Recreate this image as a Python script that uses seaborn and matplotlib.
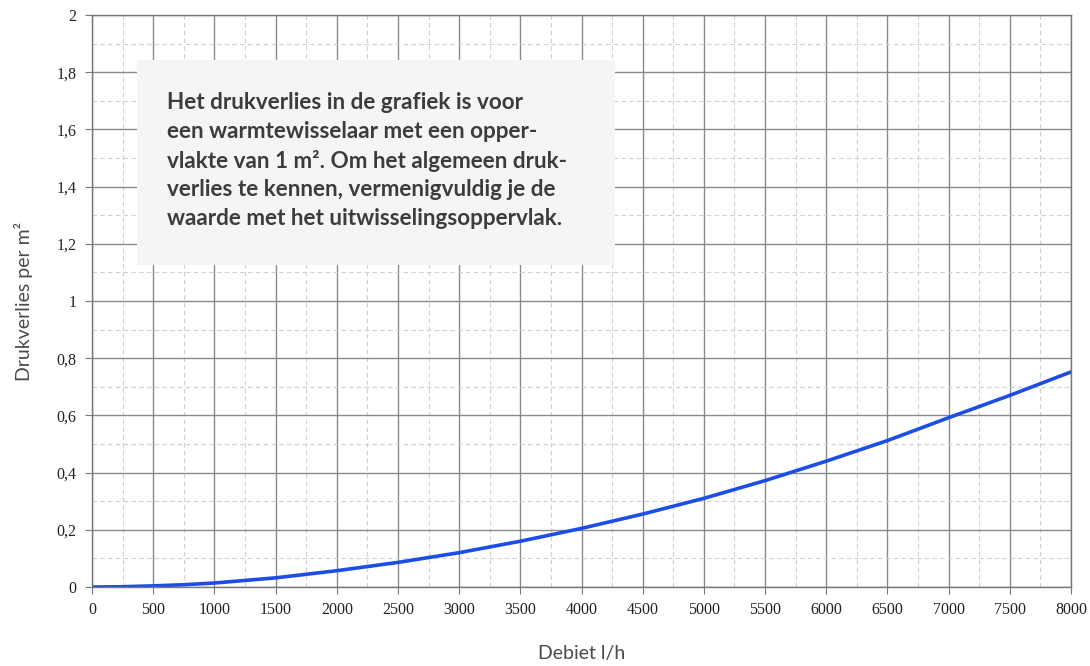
import numpy as np
import pandas as pd
import matplotlib.pyplot as plt
from matplotlib.patches import Rectangle
from matplotlib.ticker import MultipleLocator, FuncFormatter
import seaborn as sns

# debiet (l/h) and drukverlies per m2
debiet = [0, 250, 500, 750, 1000, 1500, 2000, 2500, 3000, 3500, 4000,
          4500, 5000, 5500, 6000, 6500, 7000, 7500, 8000]
drukverlies = [0.0, 0.001, 0.004, 0.008, 0.014, 0.032, 0.057, 0.086, 0.12, 0.16, 0.205,
               0.255, 0.31, 0.372, 0.44, 0.512, 0.592, 0.67, 0.752]

note = ("Het drukverlies in de grafiek is voor\n"
        "een warmtewisselaar met een opper-\n"
        "vlakte van 1 m². Om het algemeen druk-\n"
        "verlies te kennen, vermenigvuldig je de\n"
        "waarde met het uitwisselingsoppervlak.")

df = pd.DataFrame({"debiet": debiet, "drukverlies": drukverlies})

sns.set_style("white")
fig = plt.figure(figsize=(10.9, 6.66), dpi=100)
ax = fig.add_axes([0.0844, 0.1186, 0.8982, 0.8589])

sns.lineplot(data=df, x="debiet", y="drukverlies", ax=ax, color="#1c4ee6", linewidth=2.6)

ax.set_xlim(0, 8000)
ax.set_ylim(0, 2)
ax.xaxis.set_major_locator(MultipleLocator(500))
ax.xaxis.set_minor_locator(MultipleLocator(250))
ax.yaxis.set_major_locator(MultipleLocator(0.2))
ax.yaxis.set_minor_locator(MultipleLocator(0.1))
ax.yaxis.set_major_formatter(FuncFormatter(lambda v, p: f"{v:g}".replace(".", ",")))

ax.grid(which="major", color="#8a8a8a", linewidth=1.0, linestyle="-")
ax.grid(which="minor", color="#cfcfcf", linewidth=0.8, linestyle=(0, (4, 3)))
ax.set_axisbelow(True)

for s in ax.spines.values():
    s.set_color("#777777")
    s.set_linewidth(1.0)

ax.tick_params(which="major", direction="out", length=5, color="#777777",
               labelsize=11.5, pad=6, bottom=True, left=True)
ax.tick_params(which="minor", length=0)
for lbl in ax.get_xticklabels() + ax.get_yticklabels():
    lbl.set_fontfamily("Liberation Serif")
    lbl.set_color("#222222")

ax.set_xlabel("Debiet l/h", fontsize=14, color="#4a4a4a", fontfamily="Lato",
              labelpad=19)
ax.set_ylabel("Drukverlies per m²", fontsize=14, color="#4a4a4a", fontfamily="Lato",
              labelpad=17)

# note box
fig.add_artist(Rectangle((0.1257, 0.6021), 0.4385, 0.3078, transform=fig.transFigure,
                         facecolor="#f5f5f3", edgecolor="none", zorder=5))
fig.text(0.1532, 0.862, note, fontsize=16.2, fontfamily="Lato", fontweight="bold",
         color="#3c3c3c", linespacing=1.45, va="top", ha="left", zorder=6)

plt.savefig("out.png", dpi=100)
